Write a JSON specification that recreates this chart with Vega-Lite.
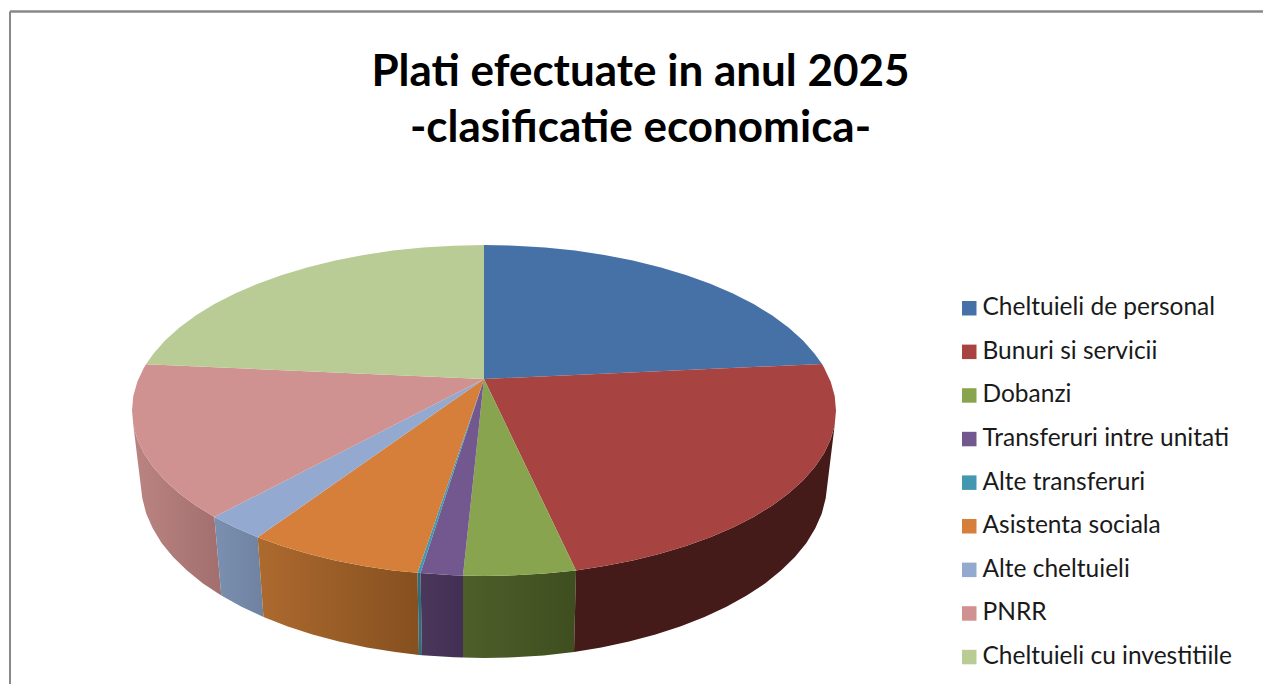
{"$schema":"https://vega.github.io/schema/vega-lite/v6.json","width":1254,"height":673,"autosize":{"type":"none"},"padding":{"left":9.5,"top":11,"right":0,"bottom":0},"background":"white","view":{"stroke":null},
"title":{"text":["Plati efectuate in anul 2025","-clasificatie economica-"],"font":"Lato","fontSize":44,"fontWeight":"bold","color":"#000000","anchor":"middle","frame":"group","dy":144,"dx":4,"lineHeight":56},
"datasets":{"slices":[
{"category":"Cheltuieli de personal","part":"top","seq":0,"x":0,"y":0},{"category":"Cheltuieli de personal","part":"top","seq":1,"x":0,"y":-134},{"category":"Cheltuieli de personal","part":"top","seq":2,"x":30.7,"y":-133.3},{"category":"Cheltuieli de personal","part":"top","seq":3,"x":61.1,"y":-131.5},{"category":"Cheltuieli de personal","part":"top","seq":4,"x":91,"y":-128.4},{"category":"Cheltuieli de personal","part":"top","seq":5,"x":120.4,"y":-124.1},{"category":"Cheltuieli de personal","part":"top","seq":6,"x":148.8,"y":-118.4},{"category":"Cheltuieli de personal","part":"top","seq":7,"x":176,"y":-111.8},{"category":"Cheltuieli de personal","part":"top","seq":8,"x":201.9,"y":-104.1},{"category":"Cheltuieli de personal","part":"top","seq":9,"x":226.3,"y":-95.3},{"category":"Cheltuieli de personal","part":"top","seq":10,"x":248.9,"y":-85.5},{"category":"Cheltuieli de personal","part":"top","seq":11,"x":269.6,"y":-74.9},{"category":"Cheltuieli de personal","part":"top","seq":12,"x":288.3,"y":-63.5},{"category":"Cheltuieli de personal","part":"top","seq":13,"x":304.8,"y":-51.2},{"category":"Cheltuieli de personal","part":"top","seq":14,"x":319,"y":-38.5},{"category":"Cheltuieli de personal","part":"top","seq":15,"x":330.8,"y":-25.1},{"category":"Cheltuieli de personal","part":"top","seq":16,"x":338,"y":-15},
{"category":"Bunuri si servicii","part":"top","seq":0,"x":0,"y":0},{"category":"Bunuri si servicii","part":"top","seq":1,"x":338,"y":-15},{"category":"Bunuri si servicii","part":"top","seq":2,"x":340,"y":-11.4},{"category":"Bunuri si servicii","part":"top","seq":3,"x":346.7,"y":2.8},{"category":"Bunuri si servicii","part":"top","seq":4,"x":350.7,"y":17.1},{"category":"Bunuri si servicii","part":"top","seq":5,"x":352,"y":31.5},{"category":"Bunuri si servicii","part":"top","seq":6,"x":350.7,"y":45.9},{"category":"Bunuri si servicii","part":"top","seq":7,"x":346.7,"y":60.2},{"category":"Bunuri si servicii","part":"top","seq":8,"x":340,"y":74.4},{"category":"Bunuri si servicii","part":"top","seq":9,"x":330.8,"y":88.1},{"category":"Bunuri si servicii","part":"top","seq":10,"x":319,"y":101.5},{"category":"Bunuri si servicii","part":"top","seq":11,"x":304.8,"y":114.3},{"category":"Bunuri si servicii","part":"top","seq":12,"x":288.3,"y":126.5},{"category":"Bunuri si servicii","part":"top","seq":13,"x":269.6,"y":137.9},{"category":"Bunuri si servicii","part":"top","seq":14,"x":248.9,"y":148.5},{"category":"Bunuri si servicii","part":"top","seq":15,"x":226.3,"y":158.3},{"category":"Bunuri si servicii","part":"top","seq":16,"x":201.9,"y":167.1},{"category":"Bunuri si servicii","part":"top","seq":17,"x":176,"y":174.8},{"category":"Bunuri si servicii","part":"top","seq":18,"x":148.8,"y":181.4},{"category":"Bunuri si servicii","part":"top","seq":19,"x":120.4,"y":187.1},{"category":"Bunuri si servicii","part":"top","seq":20,"x":92,"y":191.4},
{"category":"Dobanzi","part":"top","seq":0,"x":0,"y":0},{"category":"Dobanzi","part":"top","seq":1,"x":92,"y":191.4},{"category":"Dobanzi","part":"top","seq":2,"x":61.1,"y":194.5},{"category":"Dobanzi","part":"top","seq":3,"x":30.7,"y":196.3},{"category":"Dobanzi","part":"top","seq":4,"x":0,"y":197},{"category":"Dobanzi","part":"top","seq":5,"x":-21,"y":196.5},
{"category":"Transferuri intre unitati","part":"top","seq":0,"x":0,"y":0},{"category":"Transferuri intre unitati","part":"top","seq":1,"x":-21,"y":196.5},{"category":"Transferuri intre unitati","part":"top","seq":2,"x":-30.7,"y":196.3},{"category":"Transferuri intre unitati","part":"top","seq":3,"x":-63.5,"y":194},
{"category":"Alte transferuri","part":"top","seq":0,"x":0,"y":0},{"category":"Alte transferuri","part":"top","seq":1,"x":-63.5,"y":194},{"category":"Alte transferuri","part":"top","seq":2,"x":-66.5,"y":193.7},
{"category":"Asistenta sociala","part":"top","seq":0,"x":0,"y":0},{"category":"Asistenta sociala","part":"top","seq":1,"x":-66.5,"y":193.7},{"category":"Asistenta sociala","part":"top","seq":2,"x":-91,"y":191.4},{"category":"Asistenta sociala","part":"top","seq":3,"x":-120.4,"y":187.1},{"category":"Asistenta sociala","part":"top","seq":4,"x":-148.8,"y":181.4},{"category":"Asistenta sociala","part":"top","seq":5,"x":-176,"y":174.8},{"category":"Asistenta sociala","part":"top","seq":6,"x":-201.9,"y":167.1},{"category":"Asistenta sociala","part":"top","seq":7,"x":-226.3,"y":158.3},
{"category":"Alte cheltuieli","part":"top","seq":0,"x":0,"y":0},{"category":"Alte cheltuieli","part":"top","seq":1,"x":-226.3,"y":158.3},{"category":"Alte cheltuieli","part":"top","seq":2,"x":-248.9,"y":148.5},{"category":"Alte cheltuieli","part":"top","seq":3,"x":-269.6,"y":137.9},
{"category":"PNRR","part":"top","seq":0,"x":0,"y":0},{"category":"PNRR","part":"top","seq":1,"x":-269.6,"y":137.9},{"category":"PNRR","part":"top","seq":2,"x":-288.3,"y":126.5},{"category":"PNRR","part":"top","seq":3,"x":-304.8,"y":114.3},{"category":"PNRR","part":"top","seq":4,"x":-319,"y":101.5},{"category":"PNRR","part":"top","seq":5,"x":-330.8,"y":88.1},{"category":"PNRR","part":"top","seq":6,"x":-340,"y":74.4},{"category":"PNRR","part":"top","seq":7,"x":-346.7,"y":60.2},{"category":"PNRR","part":"top","seq":8,"x":-350.7,"y":45.9},{"category":"PNRR","part":"top","seq":9,"x":-352,"y":31.5},{"category":"PNRR","part":"top","seq":10,"x":-350.7,"y":17.1},{"category":"PNRR","part":"top","seq":11,"x":-346.7,"y":2.8},{"category":"PNRR","part":"top","seq":12,"x":-340,"y":-11.4},{"category":"PNRR","part":"top","seq":13,"x":-338,"y":-14.8},
{"category":"Cheltuieli cu investitiile","part":"top","seq":0,"x":0,"y":0},{"category":"Cheltuieli cu investitiile","part":"top","seq":1,"x":-338,"y":-14.8},{"category":"Cheltuieli cu investitiile","part":"top","seq":2,"x":-330.8,"y":-25.1},{"category":"Cheltuieli cu investitiile","part":"top","seq":3,"x":-319,"y":-38.5},{"category":"Cheltuieli cu investitiile","part":"top","seq":4,"x":-304.8,"y":-51.2},{"category":"Cheltuieli cu investitiile","part":"top","seq":5,"x":-288.3,"y":-63.5},{"category":"Cheltuieli cu investitiile","part":"top","seq":6,"x":-269.6,"y":-74.9},{"category":"Cheltuieli cu investitiile","part":"top","seq":7,"x":-248.9,"y":-85.5},{"category":"Cheltuieli cu investitiile","part":"top","seq":8,"x":-226.3,"y":-95.3},{"category":"Cheltuieli cu investitiile","part":"top","seq":9,"x":-201.9,"y":-104.1},{"category":"Cheltuieli cu investitiile","part":"top","seq":10,"x":-176,"y":-111.8},{"category":"Cheltuieli cu investitiile","part":"top","seq":11,"x":-148.8,"y":-118.4},{"category":"Cheltuieli cu investitiile","part":"top","seq":12,"x":-120.4,"y":-124.1},{"category":"Cheltuieli cu investitiile","part":"top","seq":13,"x":-91,"y":-128.4},{"category":"Cheltuieli cu investitiile","part":"top","seq":14,"x":-61.1,"y":-131.5},{"category":"Cheltuieli cu investitiile","part":"top","seq":15,"x":-30.7,"y":-133.3},{"category":"Cheltuieli cu investitiile","part":"top","seq":16,"x":0,"y":-134},
{"category":"Bunuri si servicii","part":"wall","seq":0,"x":350.7,"y":45.9},{"category":"Bunuri si servicii","part":"wall","seq":1,"x":346.7,"y":60.2},{"category":"Bunuri si servicii","part":"wall","seq":2,"x":340,"y":74.4},{"category":"Bunuri si servicii","part":"wall","seq":3,"x":330.8,"y":88.1},{"category":"Bunuri si servicii","part":"wall","seq":4,"x":319,"y":101.5},{"category":"Bunuri si servicii","part":"wall","seq":5,"x":304.8,"y":114.3},{"category":"Bunuri si servicii","part":"wall","seq":6,"x":288.3,"y":126.5},{"category":"Bunuri si servicii","part":"wall","seq":7,"x":269.6,"y":137.9},{"category":"Bunuri si servicii","part":"wall","seq":8,"x":248.9,"y":148.5},{"category":"Bunuri si servicii","part":"wall","seq":9,"x":226.3,"y":158.3},{"category":"Bunuri si servicii","part":"wall","seq":10,"x":201.9,"y":167.1},{"category":"Bunuri si servicii","part":"wall","seq":11,"x":176,"y":174.8},{"category":"Bunuri si servicii","part":"wall","seq":12,"x":148.8,"y":181.4},{"category":"Bunuri si servicii","part":"wall","seq":13,"x":120.4,"y":187.1},{"category":"Bunuri si servicii","part":"wall","seq":14,"x":92,"y":191.4},{"category":"Bunuri si servicii","part":"wall","seq":15,"x":90,"y":273},{"category":"Bunuri si servicii","part":"wall","seq":16,"x":117.3,"y":268.5},{"category":"Bunuri si servicii","part":"wall","seq":17,"x":145.1,"y":262.6},{"category":"Bunuri si servicii","part":"wall","seq":18,"x":171.5,"y":255.6},{"category":"Bunuri si servicii","part":"wall","seq":19,"x":196.9,"y":247.3},{"category":"Bunuri si servicii","part":"wall","seq":20,"x":220.5,"y":238},{"category":"Bunuri si servicii","part":"wall","seq":21,"x":242.5,"y":227.7},{"category":"Bunuri si servicii","part":"wall","seq":22,"x":262.7,"y":216.5},{"category":"Bunuri si servicii","part":"wall","seq":23,"x":281,"y":204.5},{"category":"Bunuri si servicii","part":"wall","seq":24,"x":297,"y":191.5},{"category":"Bunuri si servicii","part":"wall","seq":25,"x":310.9,"y":178},{"category":"Bunuri si servicii","part":"wall","seq":26,"x":322.4,"y":163.9},{"category":"Bunuri si servicii","part":"wall","seq":27,"x":331.3,"y":149.3},{"category":"Bunuri si servicii","part":"wall","seq":28,"x":337.8,"y":134.5},{"category":"Bunuri si servicii","part":"wall","seq":29,"x":341.7,"y":119.3},
{"category":"Dobanzi","part":"wall","seq":0,"x":92,"y":191.4},{"category":"Dobanzi","part":"wall","seq":1,"x":61.1,"y":194.5},{"category":"Dobanzi","part":"wall","seq":2,"x":30.7,"y":196.3},{"category":"Dobanzi","part":"wall","seq":3,"x":0,"y":197},{"category":"Dobanzi","part":"wall","seq":4,"x":-21,"y":196.5},{"category":"Dobanzi","part":"wall","seq":5,"x":-21,"y":278.5},{"category":"Dobanzi","part":"wall","seq":6,"x":0,"y":279},{"category":"Dobanzi","part":"wall","seq":7,"x":29.9,"y":278.3},{"category":"Dobanzi","part":"wall","seq":8,"x":59.7,"y":276.4},{"category":"Dobanzi","part":"wall","seq":9,"x":90,"y":273},
{"category":"Transferuri intre unitati","part":"wall","seq":0,"x":-21,"y":196.5},{"category":"Transferuri intre unitati","part":"wall","seq":1,"x":-30.7,"y":196.3},{"category":"Transferuri intre unitati","part":"wall","seq":2,"x":-63.5,"y":194},{"category":"Transferuri intre unitati","part":"wall","seq":3,"x":-62,"y":276.2},{"category":"Transferuri intre unitati","part":"wall","seq":4,"x":-29.9,"y":278.3},{"category":"Transferuri intre unitati","part":"wall","seq":5,"x":-21,"y":278.5},
{"category":"Alte transferuri","part":"wall","seq":0,"x":-63.5,"y":194},{"category":"Alte transferuri","part":"wall","seq":1,"x":-66.5,"y":193.7},{"category":"Alte transferuri","part":"wall","seq":2,"x":-65,"y":275.9},{"category":"Alte transferuri","part":"wall","seq":3,"x":-62,"y":276.2},
{"category":"Asistenta sociala","part":"wall","seq":0,"x":-66.5,"y":193.7},{"category":"Asistenta sociala","part":"wall","seq":1,"x":-91,"y":191.4},{"category":"Asistenta sociala","part":"wall","seq":2,"x":-120.4,"y":187.1},{"category":"Asistenta sociala","part":"wall","seq":3,"x":-148.8,"y":181.4},{"category":"Asistenta sociala","part":"wall","seq":4,"x":-176,"y":174.8},{"category":"Asistenta sociala","part":"wall","seq":5,"x":-201.9,"y":167.1},{"category":"Asistenta sociala","part":"wall","seq":6,"x":-226.3,"y":158.3},{"category":"Asistenta sociala","part":"wall","seq":7,"x":-220.5,"y":238},{"category":"Asistenta sociala","part":"wall","seq":8,"x":-196.9,"y":247.3},{"category":"Asistenta sociala","part":"wall","seq":9,"x":-171.5,"y":255.6},{"category":"Asistenta sociala","part":"wall","seq":10,"x":-145.1,"y":262.6},{"category":"Asistenta sociala","part":"wall","seq":11,"x":-117.3,"y":268.5},{"category":"Asistenta sociala","part":"wall","seq":12,"x":-88.8,"y":273},{"category":"Asistenta sociala","part":"wall","seq":13,"x":-65,"y":275.9},
{"category":"Alte cheltuieli","part":"wall","seq":0,"x":-226.3,"y":158.3},{"category":"Alte cheltuieli","part":"wall","seq":1,"x":-248.9,"y":148.5},{"category":"Alte cheltuieli","part":"wall","seq":2,"x":-269.6,"y":137.9},{"category":"Alte cheltuieli","part":"wall","seq":3,"x":-262.7,"y":216.5},{"category":"Alte cheltuieli","part":"wall","seq":4,"x":-242.5,"y":227.7},{"category":"Alte cheltuieli","part":"wall","seq":5,"x":-220.5,"y":238},
{"category":"PNRR","part":"wall","seq":0,"x":-269.6,"y":137.9},{"category":"PNRR","part":"wall","seq":1,"x":-288.3,"y":126.5},{"category":"PNRR","part":"wall","seq":2,"x":-304.8,"y":114.3},{"category":"PNRR","part":"wall","seq":3,"x":-319,"y":101.5},{"category":"PNRR","part":"wall","seq":4,"x":-330.8,"y":88.1},{"category":"PNRR","part":"wall","seq":5,"x":-340,"y":74.4},{"category":"PNRR","part":"wall","seq":6,"x":-346.7,"y":60.2},{"category":"PNRR","part":"wall","seq":7,"x":-350.7,"y":45.9},{"category":"PNRR","part":"wall","seq":8,"x":-341.7,"y":119.3},{"category":"PNRR","part":"wall","seq":9,"x":-337.8,"y":134.5},{"category":"PNRR","part":"wall","seq":10,"x":-331.3,"y":149.3},{"category":"PNRR","part":"wall","seq":11,"x":-322.4,"y":163.9},{"category":"PNRR","part":"wall","seq":12,"x":-310.9,"y":178},{"category":"PNRR","part":"wall","seq":13,"x":-297,"y":191.5},{"category":"PNRR","part":"wall","seq":14,"x":-281,"y":204.5},{"category":"PNRR","part":"wall","seq":15,"x":-262.7,"y":216.5}
]},
"data":{"name":"slices"},
"encoding":{
"x":{"field":"x","type":"quantitative","scale":{"domain":[-474.5,779.5],"zero":false,"nice":false},"axis":{"orient":"top","title":null,"grid":false,"ticks":false,"labels":false,"domain":true,"domainColor":"#888888","domainWidth":2.5}},
"y":{"field":"y","type":"quantitative","scale":{"domain":[-368,305],"zero":false,"nice":false,"reverse":true},"axis":{"orient":"left","title":null,"grid":false,"ticks":false,"labels":false,"domain":true,"domainColor":"#888888","domainWidth":2}},
"order":{"field":"seq","type":"quantitative"}},
"layer":[
{"transform":[{"filter":"datum.part==='wall' && datum.category==='PNRR'"}],"mark":{"type":"line","filled":true,"strokeWidth":0,"color":{"x1":0,"x2":1,"y1":0,"y2":0,"gradient":"linear","stops":[{"offset":0,"color":"#ba8482"},{"offset":1,"color":"#a26f6e"}]}}},
{"transform":[{"filter":"datum.part==='wall' && datum.category==='Alte cheltuieli'"}],"mark":{"type":"line","filled":true,"strokeWidth":0,"color":{"x1":0,"x2":1,"y1":0,"y2":0,"gradient":"linear","stops":[{"offset":0,"color":"#7b8fb0"},{"offset":1,"color":"#6f82a0"}]}}},
{"transform":[{"filter":"datum.part==='wall' && datum.category==='Asistenta sociala'"}],"mark":{"type":"line","filled":true,"strokeWidth":0,"color":{"x1":0,"x2":1,"y1":0,"y2":0,"gradient":"linear","stops":[{"offset":0,"color":"#ad6a2f"},{"offset":1,"color":"#85501f"}]}}},
{"transform":[{"filter":"datum.part==='wall' && datum.category==='Alte transferuri'"}],"mark":{"type":"line","filled":true,"strokeWidth":0,"color":"#2f6d7d"}},
{"transform":[{"filter":"datum.part==='wall' && datum.category==='Transferuri intre unitati'"}],"mark":{"type":"line","filled":true,"strokeWidth":0,"color":{"x1":0,"x2":1,"y1":0,"y2":0,"gradient":"linear","stops":[{"offset":0,"color":"#4a3759"},{"offset":1,"color":"#432f55"}]}}},
{"transform":[{"filter":"datum.part==='wall' && datum.category==='Dobanzi'"}],"mark":{"type":"line","filled":true,"strokeWidth":0,"color":{"x1":0,"x2":1,"y1":0,"y2":0,"gradient":"linear","stops":[{"offset":0,"color":"#4e5e2a"},{"offset":1,"color":"#3f4e1f"}]}}},
{"transform":[{"filter":"datum.part==='wall' && datum.category==='Bunuri si servicii'"}],"mark":{"type":"line","filled":true,"strokeWidth":0,"color":"#451b19"}},
{"transform":[{"filter":"datum.part==='top'"}],"mark":{"type":"line","filled":true,"strokeWidth":0},
"encoding":{"color":{"field":"category","type":"nominal","sort":null,"scale":{"domain":["Cheltuieli de personal","Bunuri si servicii","Dobanzi","Transferuri intre unitati","Alte transferuri","Asistenta sociala","Alte cheltuieli","PNRR","Cheltuieli cu investitiile"],"range":["#4571a7","#a74341","#89a44e","#72588f","#4198af","#d67f3b","#93a9cf","#d09291","#b9cc96"]},
"legend":{"orient":"none","legendX":947.5,"legendY":285,"title":null,"symbolType":"square","symbolSize":210,"symbolStrokeWidth":0,"labelFont":"Lato","labelFontSize":24.5,"labelColor":"#1a1a1a","labelOffset":1,"rowPadding":18.6,"labelLimit":320}}}}
]}
